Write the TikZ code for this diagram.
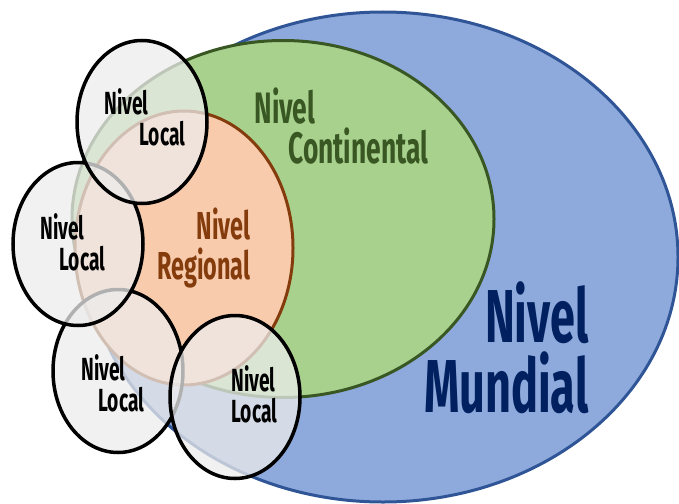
\documentclass[tikz,border=0pt]{standalone}
\usepackage{fontspec}
\setmainfont{Fira Sans}[FakeStretch=0.6]
\usetikzlibrary{shapes.geometric}
\definecolor{mundialfill}{HTML}{8EA9DB}
\definecolor{mundialline}{HTML}{2F5597}
\definecolor{mundialtext}{HTML}{002060}
\definecolor{contfill}{HTML}{A9D18E}
\definecolor{contline}{HTML}{385723}
\definecolor{regfill}{HTML}{F8CBAD}
\definecolor{regline}{HTML}{843C0C}

\begin{document}
\begin{tikzpicture}[x=1pt,y=-1pt,line width=3pt]
  \tikzstyle{level}=[ellipse,inner sep=0pt]
  \tikzstyle{local}=[level,draw=black,line width=3.5pt,fill=gray!15,fill opacity=0.75,minimum width=130pt,minimum height=163pt]
  \tikzstyle{lbl}=[inner sep=0pt,align=left,font=\bfseries\fontsize{32}{31}\selectfont]

  \useasboundingbox (0,0) rectangle (679,503);

  \node[level,draw=mundialline,fill=mundialfill,minimum width=590pt,minimum height=490pt] (mundial) at (383,257) {};
  \node[level,draw=contline,fill=contfill,minimum width=422pt,minimum height=357pt] (cont) at (283,219) {};
  \node[level,draw=regline,fill=regfill,minimum width=218pt,minimum height=274pt] (reg) at (184,248) {};

  \node[lbl,anchor=base east,align=right,text=mundialtext,font=\bfseries\fontsize{75}{70}\selectfont] (mundial-txt) at (590,412) {Nivel\\Mundial};
  \node[lbl,anchor=base west,text=contline,font=\bfseries\fontsize{44}{40}\selectfont] (cont-txt) at (253,163) {Nivel\\\hspace*{34pt}Continental};
  \node[lbl,anchor=base east,align=right,text=regline,font=\bfseries\fontsize{39}{40}\selectfont] (reg-txt) at (252,279) {Nivel\\Regional};

  \foreach \name / \x / \y in {3/118/371, 4/235/397, 2/78/244, 1/142/122}
    \node[local] (L-\name) at (\x,\y) {};

  \foreach \name / \x / \y / \ind in {1/103/145/35, 2/39/270/19, 3/80/411/17, 4/230/422/0}
    \node[lbl,anchor=base west] (L-\name-txt) at (\x,\y) {Nivel\\\hspace*{\ind pt}Local};

\end{tikzpicture}
\end{document}
